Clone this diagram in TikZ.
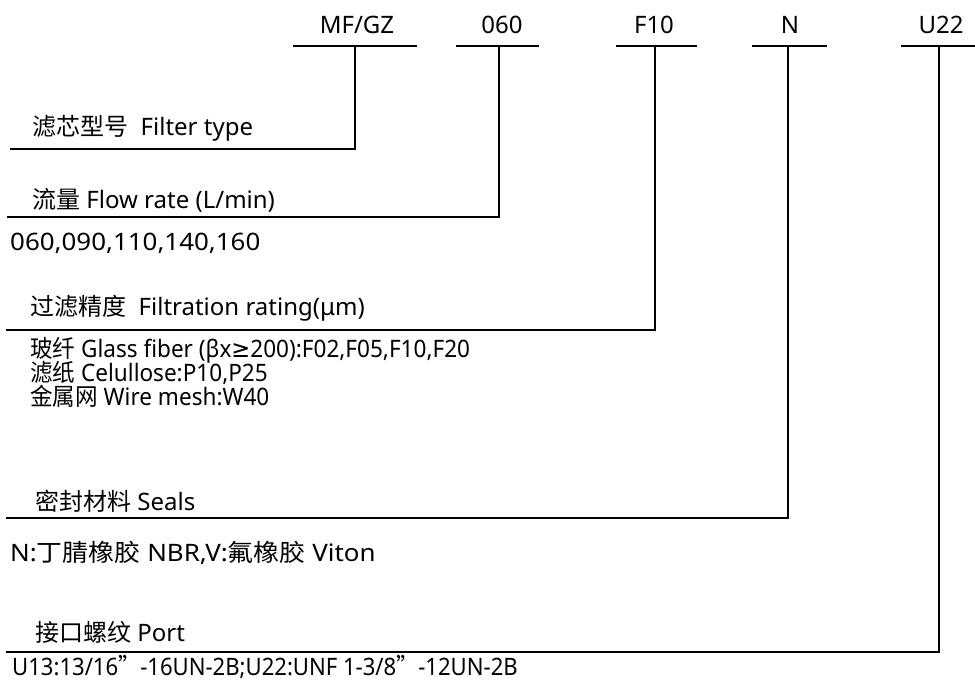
\documentclass[tikz,border=0pt]{standalone}
\usepackage{fontspec}
\setmainfont{Noto Sans}
\newfontfamily\cjk{Noto Sans CJK SC}
\newfontfamily\sym{DejaVu Sans}
\usetikzlibrary{positioning}

\tikzset{
  code/.style={font=\fontsize{24}{28}\selectfont, inner sep=0pt, anchor=base},
  desc/.style={font=\fontsize{24}{28}\selectfont, inner sep=0pt, anchor=base west},
  lead/.style={line width=2pt},
}
\newcommand{\wide}[2]{\scalebox{#1}[1]{#2}}

\begin{document}
\begin{tikzpicture}[x=1pt, y=-1pt]
\useasboundingbox (0,0) rectangle (975,687);
% Order code:
\node[code] (mf) at (357,34) {MF/GZ};
\node[code] (fl) at (502,34) {060};
\node[code] (fr) at (654,34) {F10};
\node[code] (sl) at (790,34) {N};
\node[code] (pt) at (941,34) {U22};
% Bars under the code:
\coordinate (mfA) at (293,46); \coordinate (mfB) at (417,46); \coordinate (mfT) at (355,46);
\coordinate (flA) at (456,46); \coordinate (flB) at (539,46); \coordinate (flT) at (499,46);
\coordinate (frA) at (616,46); \coordinate (frB) at (697,46); \coordinate (frT) at (655,46);
\coordinate (slA) at (752,46); \coordinate (slB) at (827,46); \coordinate (slT) at (788,46);
\coordinate (ptA) at (901,46); \coordinate (ptB) at (975,46); \coordinate (ptT) at (939,46);
\draw[lead] (mfA) -- (mfB);
\draw[lead] (flA) -- (flB);
\draw[lead] (frA) -- (frB);
\draw[lead] (slA) -- (slB);
\draw[lead] (ptA) -- (ptB);
% Descriptions:
\node[desc] (mfD) at (32,136) {{\cjk 滤芯型号}\ \ Filter type};
\node[desc] (flD) at (32,209) {{\cjk 流量} Flow rate (L/min)};
\node[desc] (flV) at (10,251) {\wide{1.08}{060,090,110,140,160}};
\node[desc] (frD) at (30,316) {{\cjk 过滤精度}\ \ Filtration rating(μm)};
\node[desc] (frV1) at (30,357) {\wide{0.94}{{\cjk 玻纤} Glass fiber (βx{\sym ≥}200):F02,F05,F10,F20}};
\node[desc] (frV2) at (30,381) {\wide{0.94}{{\cjk 滤纸} Celullose:P10,P25}};
\node[desc] (frV3) at (30,405) {\wide{0.94}{{\cjk 金属网} Wire mesh:W40}};
\node[desc] (slD) at (35,510) {{\cjk 密封材料} Seals};
\node[desc] (slV) at (10,561) {\wide{1.08}{N:{\cjk 丁腈橡胶} NBR,V:{\cjk 氟橡胶} Viton}};
\node[desc] (ptD) at (35,641) {{\cjk 接口螺纹} Port};
\node[desc] (ptV) at (12,675) {\wide{0.92}{U13:13/16{\cjk ”}-16UN-2B;U22:UNF 1-3/8{\cjk ”}-12UN-2B}};
% Leaders:
\coordinate (mfE) at (10,149);
\coordinate (flE) at (7,217);
\coordinate (frE) at (6,330);
\coordinate (slE) at (6,518);
\coordinate (ptE) at (6,652);
\draw[lead] (mfT) |- (mfE);
\draw[lead] (flT) |- (flE);
\draw[lead] (frT) |- (frE);
\draw[lead] (slT) |- (slE);
\draw[lead] (ptT) |- (ptE);
\end{tikzpicture}
\end{document}
